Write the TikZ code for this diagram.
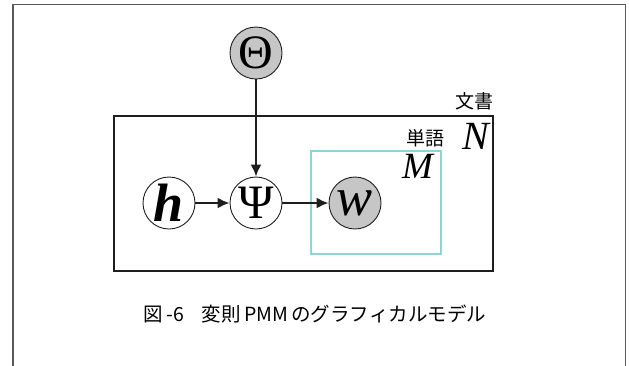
\documentclass[tikz,border=0pt]{standalone}
\usepackage{fontspec}
\setmainfont{Liberation Serif}
\newfontfamily\tms{Liberation Serif}
\newfontfamily\cjk{Noto Sans CJK JP}
\usetikzlibrary{arrows.meta}
\definecolor{framegray}{HTML}{5A5A5A}
\definecolor{nodegray}{HTML}{C6C6C6}
\definecolor{plateteal}{HTML}{8ED4D2}
\definecolor{inkdark}{HTML}{1E1E1E}
\tikzset{
  var/.style={circle, draw=inkdark, line width=0.9pt, minimum size=52pt, inner sep=0pt},
  obs/.style={var, fill=nodegray},
  edge/.style={-{Latex[length=12pt,width=11pt]}, line width=2pt, draw=inkdark},
  platebox/.style={draw=inkdark, line width=1.4pt},
  innerplate/.style={draw=plateteal, line width=1.4pt},
  cjklabel/.style={font=\cjk\fontsize{19}{20}\selectfont, inner sep=0pt},
  platelabel/.style={font=\tms\fontsize{40}{42}\selectfont\itshape, inner sep=0pt},
}
\begin{document}
\begin{tikzpicture}[x=1pt,y=-1pt]
\useasboundingbox (0,0) rectangle (629,365);
% outer frame (open at bottom)
\draw[framegray, line width=1.8pt] (13,380) -- (13,4.5) -- (625.5,4.5) -- (625.5,380);
% plates
\draw[platebox] (114,116) rectangle (493,271);
\draw[innerplate] (311,151) rectangle (441,254);
% plate labels
\node[cjklabel] (doc) at (474,101.5) {文書};
\node[cjklabel] (word) at (425,138) {単語};
\node[platelabel] (N) at (476,136) {N};
\node[platelabel, font=\tms\fontsize{37}{40}\selectfont\itshape] (M) at (417.5,166) {M};
% nodes
\node[obs, font=\tms\fontsize{48}{50}\selectfont] (theta) at (256,53) {Θ};
\node[var, font=\tms\fontsize{54}{56}\selectfont\bfseries\itshape] (h) at (169,203) {h};
\node[var, font=\tms\fontsize{48}{50}\selectfont] (psi) at (256,203) {Ψ};
\node[obs, font=\tms\fontsize{54}{56}\selectfont\itshape] (w) at (355,203) {w};
% edges
\draw[edge] (theta) -- (psi);
\draw[edge] (h) -- (psi);
\draw[edge] (psi) -- (w);
% caption
\node[font=\cjk\fontsize{19.5}{22}\selectfont, inner sep=0pt] (cap) at (315,314) {図\,-6\hspace{0.9em}変則\,PMM\,のグラフィカルモデル};
\end{tikzpicture}
\end{document}
